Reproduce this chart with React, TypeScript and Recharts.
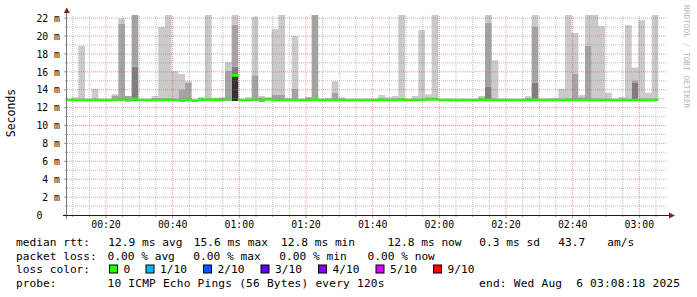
import { Area, ComposedChart, ReferenceLine, XAxis, YAxis } from "recharts";

// time in minutes after midnight; graph spans 00:08:18 .. 03:08:18, one slot every 120 s
const START = 8.3;
const END = 188.3;
const FIRST_SLOT = 7.7;
const STEP = 2;
const Y_MAX = 22.35;
const SMOKE_BASE = 12.75;

// median rtt per slot (ms)
const medianRtt = [
  12.85, 12.85, 12.85, 12.85, 12.85, 12.85, 12.85, 12.85, 12.95, 12.8,
  12.95, 12.85, 12.85, 12.85, 12.85, 12.9, 12.85, 12.78, 12.85, 12.78,
  12.9, 12.9, 12.9, 12.85, 13.0, 15.6, 12.85, 12.85, 12.95, 12.78,
  12.95, 12.85, 12.85, 12.85, 12.85, 12.85, 12.85, 12.9, 12.85, 12.85,
  12.85, 12.85, 12.85, 12.85, 12.85, 12.85, 12.85, 12.9, 12.85, 12.85,
  12.9, 12.85, 12.85, 12.85, 12.95, 12.95, 12.85, 12.85, 12.85, 12.85,
  12.85, 12.85, 12.9, 12.85, 12.85, 12.85, 12.85, 12.85, 12.85, 12.85,
  12.9, 12.85, 12.85, 12.85, 12.85, 12.9, 12.85, 12.85, 12.85, 12.85,
  12.85, 12.85, 12.85, 12.85, 12.85, 12.85, 12.85, 12.85, 12.85,
];

// smoke: top of each ping band (ms), null = band not present
const smokeOuter = [
  null, 13.15, 18.9, null, 14.1, null, null, 13.5, 21.95, null,
  null, null, null, 13.3, 21.0, 22.6, 16.1, 15.75, 14.96, null,
  13.15, 22.6, 13.1, 13.15, 17.1, 22.6, null, 13.15, 22.15, 13.3,
  13.15, 20.77, 22.6, 13.1, 20.0, null, null, null, 13.0, 13.1,
  14.96, 13.15, null, null, null, 12.98, 12.98, 13.4, 13.15, 13.3,
  22.6, null, 13.3, 20.66, 13.47, 22.6, null, 13.0, null, null,
  null, null, 13.3, 22.6, 17.3, 13.0, null, null, null, 13.3,
  22.6, 13.0, 13.05, 13.1, 14.07, 22.6, 20.33, 13.4, 22.6, 22.6,
  21.1, 13.66, null, 13.2, 21.2, 16.49, 21.77, 13.66, 22.6,
];
const smokeMid = [
  null, null, null, null, null, null, null, 13.3, 21.35, 13.3,
  22.6, null, null, 13.1, 13.1, 13.1, null, 13.96, 14.8, null,
  null, null, null, 13.1, 16.1, 21.3, null, null, 15.63, 13.15,
  null, 13.4, 13.4, null, 14.07, null, 13.15, 22.6, null, null,
  13.62, null, null, null, null, null, null, null, null, 13.05,
  13.1, null, null, null, null, null, null, null, null, null,
  null, null, 13.15, 21.48, null, null, null, null, null, 13.1,
  21.0, null, null, null, null, null, 15.75, 13.15, 18.9, null,
  null, null, null, null, 13.0, 15.07, null, null, null,
];
const smokeInner = [
  null, null, null, null, null, null, null, null, null, null,
  16.6, null, null, null, null, null, null, null, null, null,
  null, null, null, null, null, 16.56, null, null, null, null,
  null, null, null, null, null, null, null, null, null, null,
  null, null, null, null, null, null, null, null, null, null,
  null, null, null, null, null, null, null, null, null, null,
  null, null, null, 14.3, null, null, null, null, null, null,
  14.78, null, null, null, null, null, null, null, null, null,
  null, null, null, null, null, 14.76, null, null, null,
];
const smokeCore = [
  null, null, null, null, null, null, null, null, null, null,
  null, null, null, null, null, null, null, null, null, null,
  null, null, null, null, null, 15.6, null, null, null, null,
  null, null, null, null, null, null, null, null, null, null,
  null, null, null, null, null, null, null, null, null, null,
  null, null, null, null, null, null, null, null, null, null,
  null, null, null, null, null, null, null, null, null, null,
  null, null, null, null, null, null, null, null, null, null,
  null, null, null, null, null, null, null, null, null,
];

const xTicks = [
  10, 15, 20, 25, 30, 35, 40, 45, 50, 55, 60, 65, 70, 75, 80, 85, 90, 95, 100,
  105, 110, 115, 120, 125, 130, 135, 140, 145, 150, 155, 160, 165, 170, 175,
  180, 185,
];
const yTicks = [
  0, 1, 2, 3, 4, 5, 6, 7, 8, 9, 10, 11, 12, 13, 14, 15, 16, 17, 18, 19, 20, 21,
  22,
];

const lossLabels = ["0", "1/10", "2/10", "3/10", "4/10", "5/10", "9/10"];
const lossColors = [
  "#26ff00", "#00b8ff", "#0059ff", "#5e00ff", "#7e00ff", "#dd00ff", "#ff0000",
];
const rttStats = ["12.9 ms avg", "15.6 ms max", "12.8 ms min", "12.8 ms now", "0.3 ms sd", "43.7", "am/s"];
const lossStats = ["0.00 % avg", "0.00 % max", "0.00 % min", "0.00 % now"];
const probeText = "10 ICMP Echo Pings (56 Bytes) every 120s";
const endText = "end: Wed Aug  6 03:08:18 2025";

const rttX = [108.3, 193.8, 281, 387.5, 479.3, 558.3, 607.3];
const lossX = [107.5, 193.3, 279.3, 367.5];
const boxX = [109, 145.5, 203, 260.5, 318, 375.5, 433];

const MONO = "DejaVu Sans Mono";

function buildRows() {
  const rows = medianRtt.map((med, i) => {
    const core = smokeCore[i] ?? SMOKE_BASE;
    const inner = smokeInner[i] ?? core;
    const mid = smokeMid[i] ?? inner;
    const outer = smokeOuter[i] ?? mid;
    return {
      t: FIRST_SLOT + STEP * i,
      base: SMOKE_BASE,
      core: core - SMOKE_BASE,
      inner: inner - core,
      mid: mid - inner,
      outer: outer - mid,
      medLow: med - 0.15,
      medBand: 0.3,
    };
  });
  // closing point so the last step has a width
  const last = rows[rows.length - 1];
  rows.push({ ...last, t: last.t + STEP });
  return rows;
}

const pad = (n: number) => String(n).padStart(2, "0");

function XTick(props: any) {
  const { x, y, payload } = props;
  const m = payload.value as number;
  const major = m % 20 === 0;
  return (
    <g>
      <line x1={x} x2={x} y1={y - 13} y2={y - 13 + (major ? 3 : 2)} stroke="#999" />
      {major && (
        <text x={x} y={y} textAnchor="middle" fontFamily={MONO} fontSize={9.8} fill="#000">
          {`${pad(Math.floor(m / 60))}:${pad(m % 60)}`}
        </text>
      )}
    </g>
  );
}

function YTick(props: any) {
  const { x, y, payload } = props;
  const v = payload.value as number;
  const major = v % 2 === 0;
  return (
    <g>
      <line x1={x + 7 - (major ? 3 : 2)} x2={x + 7} y1={y} y2={y} stroke="#999" />
      {major && (
        <text x={x} y={y + 3.7} textAnchor="end" xmlSpace="preserve" fontFamily={MONO} fontSize={9.8} fill="#000">
          {v === 0 ? "0   " : `${v} m`}
        </text>
      )}
    </g>
  );
}

const MINOR = "rgba(140,140,140,0.55)";
const MAJOR = "rgba(222,79,79,0.55)";

export default function App() {
  const rows = buildRows();
  const xMinor = xTicks.filter((m) => m % 20 !== 0);
  const xMajor = xTicks.filter((m) => m % 20 === 0);
  const yMinor = yTicks.filter((v) => v % 2 === 1);
  const yMajor = yTicks.filter((v) => v % 2 === 0 && v > 0);

  return (
    <div style={{ position: "absolute", left: 0, top: 0, width: 697, height: 297, background: "#fff" }}>
      <ComposedChart
        width={697}
        height={297}
        data={rows}
        margin={{ top: 15, right: 30, bottom: 62, left: 37 }}
      >
        <XAxis
          dataKey="t"
          type="number"
          domain={[START, END]}
          allowDataOverflow
          ticks={xTicks}
          interval={0}
          height={20}
          axisLine={false}
          tickLine={false}
          tickSize={0}
          tickMargin={13}
          tick={<XTick />}
        />
        <YAxis
          type="number"
          domain={[0, Y_MAX]}
          allowDataOverflow
          ticks={yTicks}
          interval={0}
          width={30}
          axisLine={false}
          tickLine={false}
          tickSize={0}
          tickMargin={7}
          tick={<YTick />}
        />
        <Area stackId="smoke" dataKey="base" type="stepAfter" stroke="none" fill="none" isAnimationActive={false} />
        <Area stackId="smoke" dataKey="core" type="stepAfter" stroke="none" fill="#323232" fillOpacity={1} isAnimationActive={false} />
        <Area stackId="smoke" dataKey="inner" type="stepAfter" stroke="none" fill="#7e7e7e" fillOpacity={1} isAnimationActive={false} />
        <Area stackId="smoke" dataKey="mid" type="stepAfter" stroke="none" fill="#a4a4a4" fillOpacity={1} isAnimationActive={false} />
        <Area stackId="smoke" dataKey="outer" type="stepAfter" stroke="none" fill="#cacaca" fillOpacity={1} isAnimationActive={false} />
        <Area stackId="median" dataKey="medLow" type="stepAfter" stroke="none" fill="none" isAnimationActive={false} />
        <Area stackId="median" dataKey="medBand" type="stepAfter" stroke="none" fill="#26ff00" fillOpacity={1} isAnimationActive={false} />
        {xMinor.map((m) => (
          <ReferenceLine key={`xm${m}`} x={m} stroke={MINOR} strokeDasharray="1 1" />
        ))}
        {yMinor.map((v) => (
          <ReferenceLine key={`ym${v}`} y={v} stroke={MINOR} strokeDasharray="1 1" />
        ))}
        {xMajor.map((m) => (
          <ReferenceLine key={`xM${m}`} x={m} stroke={MAJOR} strokeDasharray="1 1" />
        ))}
        {yMajor.map((v) => (
          <ReferenceLine key={`yM${v}`} y={v} stroke={MAJOR} strokeDasharray="1 1" />
        ))}
      </ComposedChart>

      <svg
        width={697}
        height={297}
        style={{ position: "absolute", left: 0, top: 0, pointerEvents: "none" }}
        fontFamily={MONO}
      >
        <line x1={66.5} y1={219} x2={66.5} y2={12} stroke="#777" />
        <polygon points="66.8,7.5 63.8,13 69.8,13" fill="#7f1f1f" />
        <line x1={63} y1={215.5} x2={669} y2={215.5} stroke="#1f1f1f" />
        <polygon points="675,215.5 669,212.5 669,218.5" fill="#7f1f1f" />

        <text x={15} y={113} transform="rotate(-90 15 113)" textAnchor="middle" fontSize={11.5} fill="#000">
          Seconds
        </text>
        <text x={684} y={5} transform="rotate(90 684 5)" fontSize={7.8} fill="#b4b4b4">
          RRDTOOL / TOBI OETIKER
        </text>

        <g fontSize={11.2} fill="#000">
          <text x={16} y={246}>median rtt:</text>
          {rttStats.map((s, i) => (
            <text key={s + i} x={rttX[i]} y={246}>{s}</text>
          ))}
          <text x={16} y={259.6}>packet loss:</text>
          {lossStats.map((s, i) => (
            <text key={s + i} x={lossX[i]} y={259.6}>{s}</text>
          ))}
          <text x={16} y={273.4}>loss color:</text>
          {lossLabels.map((l, i) => (
            <g key={l}>
              <rect x={boxX[i] + 0.5} y={265} width={8} height={8} fill={lossColors[i]} stroke="#000" />
              <text x={boxX[i] + 14.5} y={273.4}>{l}</text>
            </g>
          ))}
          <text x={16} y={287.2}>probe:</text>
          <text x={107.5} y={287.2} textLength={277} lengthAdjust="spacing">{probeText}</text>
          <text x={479} y={287.2} xmlSpace="preserve" textLength={201} lengthAdjust="spacing">{endText}</text>
        </g>
      </svg>
    </div>
  );
}
